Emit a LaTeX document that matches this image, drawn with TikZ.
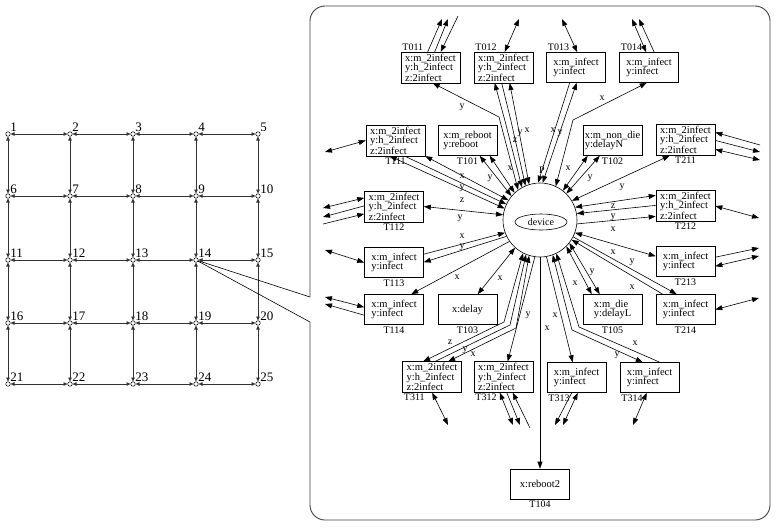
\documentclass[tikz,border=0pt]{standalone}
\usepackage{fontspec}
\setmainfont{Liberation Serif}
\usetikzlibrary{arrows.meta,shapes.geometric,calc}
\newcommand\bfs{\fontsize{10.5}{9.4}\selectfont}
\newcommand\nfs{\fontsize{10}{10}\selectfont}
\newcommand\gfs{\fontsize{13}{13}\selectfont}
\begin{document}
\begin{tikzpicture}[x=1pt,y=-1pt,
  box/.style={draw, line width=0.6pt, minimum width=59pt, minimum height=30pt, inner sep=1.5pt, align=left, font=\bfs},
  con/.style={line width=0.6pt},
  hd/.style={-{Triangle[length=7pt,width=5pt]}},
  hh/.style={{Triangle[length=7pt,width=5pt]}-{Triangle[length=7pt,width=5pt]}},
  lab/.style={font=\nfs, inner sep=0.5pt},
  tname/.style={font=\nfs, inner sep=1.5pt},
  gnode/.style={circle, draw, fill=white, inner sep=0pt, minimum size=4.5pt, line width=0.5pt},
  glab/.style={font=\gfs, inner sep=0.3pt, anchor=south west},
  gedge/.style={line width=0.6pt, draw=black!80, {Triangle[length=4pt,width=3.5pt]}-{Triangle[length=4pt,width=3.5pt]}},
]
\useasboundingbox (0,0) rectangle (776,528);

% ---------------- grid ----------------
\foreach \r/\yy in {0/134,1/196,2/260,3/323,4/384}{
  \foreach \c/\xx in {1/8,2/70,3/133,4/196,5/258}{
    \pgfmathtruncatemacro\k{\r*5+\c}
    \node[gnode] (g\k) at (\xx,\yy) {};
    \node[glab] (gl\k) at (g\k.north east) {\k};
  }}
\foreach \r in {0,...,4}{\foreach \c in {1,...,4}{
  \pgfmathtruncatemacro\a{\r*5+\c}\pgfmathtruncatemacro\b{\a+1}
  \draw[gedge] (g\a) -- (g\b);}}
\foreach \k in {1,...,20}{\pgfmathtruncatemacro\b{\k+5}\draw[gedge] (g\k) -- (g\b);}

% ---------------- panel ----------------
\coordinate (gapT) at (310,297);
\coordinate (gapB) at (310,322);
\draw[line width=0.9pt, draw=black!75, rounded corners=15pt] (gapT) -- (310,6) -- (770,6) -- (770,520) -- (310,520) -- (gapB);
\draw[con] (g14) -- (gapT);
\draw[con] (g14) -- (gapB);

% ---------------- device ----------------
\node[circle, draw, line width=0.6pt, minimum size=74pt, inner sep=0pt] (dev) at (540,220) {};
\node[ellipse, draw, line width=0.6pt, minimum width=52pt, minimum height=16pt, inner sep=0pt, font=\nfs] (devl) at (541,222) {device};

% ---------------- boxes ----------------
\node[box] (T011) at (430.5,67.5) {x:m\_2infect\\y:h\_2infect\\z:2infect};
\node[box] (T012) at (503.5,67.5) {x:m\_2infect\\y:h\_2infect\\z:2infect};
\node[box] (T013) at (576,67.5) {x:m\_infect\\y:infect};
\node[box] (T014) at (649,67.5) {x:m\_infect\\y:infect};
\node[box] (T111) at (395.5,140.5) {x:m\_2infect\\y:h\_2infect\\z:2infect};
\node[box] (T101) at (467.5,140.5) {x:m\_reboot\\y:reboot};
\node[box] (T102) at (612.5,140.5) {x:m\_non\_die\\y:delayN};
\node[box] (T211) at (685.5,140) {x:m\_2infect\\y:h\_2infect\\z:2infect};
\node[box] (T112) at (394,206.5) {x:m\_2infect\\y:h\_2infect\\z:2infect};
\node[box] (T212) at (685.5,206) {x:m\_2infect\\y:h\_2infect\\z:2infect};
\node[box] (T113) at (394,262.5) {x:m\_infect\\y:infect};
\node[box] (T213) at (685.5,261.5) {x:m\_infect\\y:infect};
\node[box] (T114) at (394,309.5) {x:m\_infect\\y:infect};
\node[box] (T103) at (467.5,309.5) {x:delay};
\node[box] (T105) at (612.5,309.5) {x:m\_die\\y:delayL};
\node[box] (T214) at (685.5,309.5) {x:m\_infect\\y:infect};
\node[box] (T311) at (432,377) {x:m\_2infect\\y:h\_2infect\\z:2infect};
\node[box] (T312) at (503.5,377) {x:m\_2infect\\y:h\_2infect\\z:2infect};
\node[box] (T313) at (576.5,377.5) {x:m\_infect\\y:infect};
\node[box] (T314) at (649.5,377.5) {x:m\_infect\\y:infect};
\node[box] (T104) at (540,484) {x:reboot2};

% names
\foreach \t in {T011,T012,T013,T014}{\node[tname, anchor=south west] (n\t) at (\t.north west) {\t};}
\foreach \t in {T111,T101,T102,T211,T112,T212,T113,T213,T114,T103,T105,T214,T104}{\node[tname, anchor=north] (n\t) at (\t.south) {\t};}
\foreach \t in {T311,T312,T313,T314}{\node[tname, anchor=north west] (n\t) at (\t.south west) {\t};}

% ---------------- free ends ----------------
\coordinate (a1) at (442,19); \coordinate (a2) at (448,19); \coordinate (a3) at (458,16);
\coordinate (a4) at (519,19); \coordinate (a5) at (562,19);
\coordinate (a6) at (632,19); \coordinate (a7) at (639,19);
\coordinate (c0) at (325,152);
\coordinate (c1) at (760,145); \coordinate (c2) at (760,152); \coordinate (c3) at (760,160);
\coordinate (c4) at (323,208); \coordinate (c5) at (323,217); \coordinate (c6) at (323,224);
\coordinate (c7) at (759,218);
\coordinate (c8) at (325,250);
\coordinate (c9) at (759,248); \coordinate (c10) at (759,256);
\coordinate (c11) at (325,297); \coordinate (c12) at (325,304);
\coordinate (c13) at (759,298);
\coordinate (d1) at (448,425); \coordinate (d2) at (513,425); \coordinate (d3) at (520,425); \coordinate (d4) at (530,428);
\coordinate (d5) at (555,425); \coordinate (d6) at (563,425); \coordinate (d7) at (633,425);
% bends
\coordinate (b1) at (499,117);
\coordinate (b2) at (505,121); \coordinate (b3) at (511,121); \coordinate (b4) at (517,121);
\coordinate (b5) at (573,120);
\coordinate (b6) at (504,322); \coordinate (b7) at (510,325); \coordinate (b8) at (516,328);
\coordinate (b9) at (572,330); \coordinate (b10) at (579,327);

% ---------------- outer dangling edges ----------------
\draw[con,hd] ($(T011.north west)+(27,0)$) -- (a1);
\draw[con,hd] ($(T011.north west)+(34,0)$) -- (a2);
\draw[con,hd] (a3) -- ($(T011.north west)+(40,0)$);
\draw[con,hh] ($(T012.north west)+(31,0)$) -- (a4);
\draw[con,hh] ($(T013.north west)+(31,0)$) -- (a5);
\draw[con,hh] ($(T014.north west)+(27,0)$) -- (a6);
\draw[con,hd] ($(T014.north west)+(35,0)$) -- (a7);
\draw[con,hh] (T111.west) -- (c0);
\draw[con,hd] (c1) -- ($(T211.north east)+(0,8)$);
\draw[con,hd] ($(T211.north east)+(0,16)$) -- (c2);
\draw[con,hh] (c3) -- ($(T211.north east)+(0,25)$);
\draw[con,hh] (c4) -- ($(T112.north west)+(0,7)$);
\draw[con,hd] ($(T112.north west)+(0,15)$) -- (c5);
\draw[con,hd] (c6) -- ($(T112.north west)+(0,23)$);
\draw[con,hh] (T212.east) -- (c7);
\draw[con,hh] (T113.west) -- (c8);
\draw[con,hd] ($(T213.north east)+(0,11)$) -- (c9);
\draw[con,hh] (c10) -- ($(T213.north east)+(0,20)$);
\draw[con,hh] (c11) -- ($(T114.north west)+(0,13)$);
\draw[con,hd] ($(T114.north west)+(0,21)$) -- (c12);
\draw[con,hh] (T214.east) -- (c13);
\draw[con,hh] ($(T311.south west)+(30,0)$) -- (d1);
\draw[con,hh] ($(T312.south west)+(26,0)$) -- (d2);
\draw[con,hd] ($(T312.south west)+(33,0)$) -- (d3);
\draw[con,hd] (d4) -- ($(T312.south west)+(39,0)$);
\draw[con,hd] ($(T313.south west)+(25,0)$) -- (d5);
\draw[con,hh] ($(T313.south west)+(31,0)$) -- (d6);
\draw[con,hh] ($(T314.south west)+(27,0)$) -- (d7);

% ---------------- device edges ----------------
\draw[con,hh] (dev.126) -- (b1) -- ($(T011.south west)+(32,0)$);
\draw[con,hh] (dev.119) -- (b2) -- ($(T012.south west)+(21,0)$);
\draw[con,hd] ($(T012.south west)+(28,0)$) -- (b3) -- (dev.113);
\draw[con,hh] (dev.107) -- (b4) -- ($(T012.south west)+(36,0)$);
\draw[con,hd] ($(T013.south west)+(23.5,0)$) -- (dev.93);
\draw[con,hh] (dev.86) -- ($(T013.south west)+(30.5,0)$);
\draw[con,hh] (dev.65) -- (b5) -- ($(T014.south west)+(27.5,0)$);
\draw[con,hh] ($(T101.south west)+(42,0)$) -- (dev.140);
\draw[con,hh] ($(T101.south west)+(52,0)$) -- (dev.133);
\draw[con,hh] (T111.south east) -- (dev.148);
\draw[con,hd] ($(T111.south west)+(39,0)$) -- (dev.155);
\draw[con,hh] ($(T111.south west)+(24,0)$) -- (dev.162);
\draw[con,hh] ($(T102.south west)+(5,0)$) -- (dev.52);
\draw[con,hh] ($(T102.south west)+(17,0)$) -- (dev.45);
\draw[con,hh] ($(T211.south west)+(14,0)$) -- (dev.31);
\draw[con,hh] (T112.east) -- (dev.172);
\draw[con,hh] ($(T212.north west)+(0,5)$) -- (dev.20);
\draw[con,hd] ($(T212.north west)+(0,15)$) -- (dev.10);
\draw[con,hd] (dev.-6) -- ($(T212.north west)+(0,26)$);
\draw[con,hd] ($(T113.north east)+(0,7)$) -- (dev.200);
\draw[con,hd] (dev.206) -- ($(T113.north east)+(0,15)$);
\draw[con,hd] (dev.215) -- ($(T114.north west)+(47,0)$);
\draw[con,hh] (dev.228) -- ($(T103.north west)+(40,0)$);
\draw[con,hh] (dev.243) -- (b6) -- ($(T311.north west)+(21,0)$);
\draw[con,hd] ($(T311.north west)+(33,0)$) -- (b7) -- (dev.248);
\draw[con,hh] (dev.253) -- (b8) -- ($(T311.north west)+(46,0)$);
\draw[con,hd] (dev.262) -- ($(T312.north west)+(34,0)$);
\draw[con,hd] (dev.south) -- (T104.north);
\draw[con,hd] (dev.280) -- ($(T313.north west)+(26,0)$);
\draw[con,hh] (dev.290) -- (b9) -- ($(T314.north west)+(23,0)$);
\draw[con,hd] ($(T314.north west)+(40,0)$) -- (b10) -- (dev.296);
\draw[con,hh] (dev.315) -- ($(T105.north west)+(9,0)$);
\draw[con,hh] (dev.322) -- ($(T105.north west)+(17,0)$);
\draw[con,hh] (dev.340) -- ($(T213.north west)+(0,10)$);
\draw[con,hd] (dev.333) -- ($(T214.north west)+(21,0)$);
\draw[con,hd] ($(T214.north west)+(7,0)$) -- (dev.328);

% ---------------- edge labels ----------------
\node[lab] (l1) at (462,107) {y};
\node[lab] (l2) at (515,140) {z};
\node[lab] (l3) at (520,133) {y};
\node[lab] (l4) at (527,130) {x};
\node[lab] (l5) at (553,130) {x};
\node[lab] (l6) at (560,133) {y};
\node[lab] (l7) at (542,170) {P};
\node[lab] (l8) at (602,98) {x};
\node[lab] (l9) at (510,168) {x};
\node[lab] (l10) at (490,178) {y};
\node[lab] (l11) at (462,176) {x};
\node[lab] (l12) at (462,188) {y};
\node[lab] (l13) at (462,200) {z};
\node[lab] (l14) at (568,168) {x};
\node[lab] (l15) at (590,178) {y};
\node[lab] (l16) at (622,187) {y};
\node[lab] (l17) at (460,218) {y};
\node[lab] (l18) at (613,206) {z};
\node[lab] (l19) at (613,217) {y};
\node[lab] (l20) at (613,229) {x};
\node[lab] (l21) at (462,236) {x};
\node[lab] (l22) at (462,247) {y};
\node[lab] (l23) at (457,277) {x};
\node[lab] (l24) at (500,278) {x};
\node[lab] (l25) at (613,252) {x};
\node[lab] (l26) at (632,262) {y};
\node[lab] (l27) at (632,287) {x};
\node[lab] (l28) at (575,283) {x};
\node[lab] (l29) at (592,272) {y};
\node[lab] (l30) at (450,342) {z};
\node[lab] (l31) at (465,350) {y};
\node[lab] (l32) at (473,354) {x};
\node[lab] (l33) at (528,315) {y};
\node[lab] (l34) at (547,328) {x};
\node[lab] (l35) at (555,315) {x};
\node[lab] (l36) at (617,355) {y};
\node[lab] (l37) at (635,343) {x};
\end{tikzpicture}
\end{document}
